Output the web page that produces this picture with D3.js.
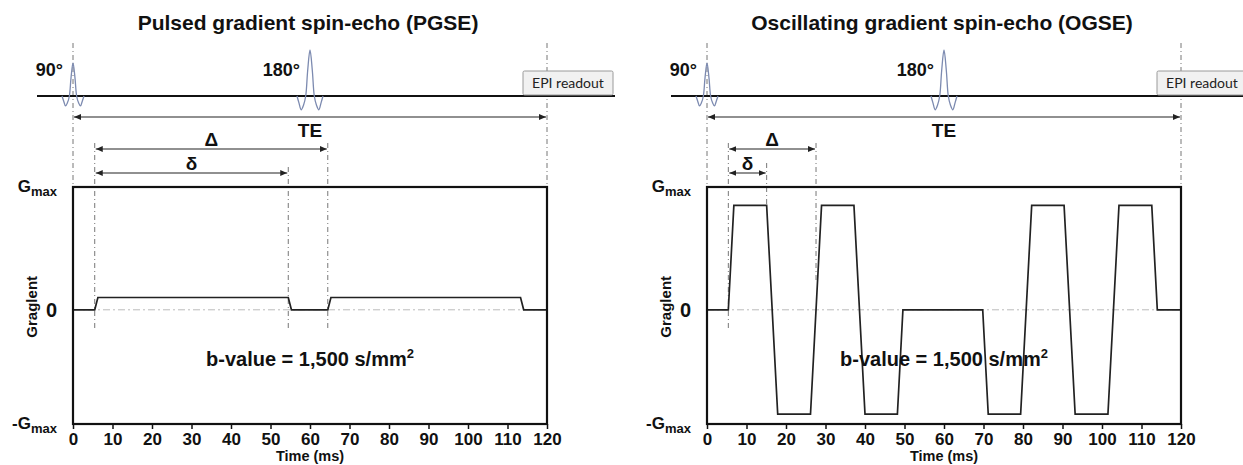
<!DOCTYPE html>
<html>
<head>
<meta charset="utf-8">
<script src="https://cdn.jsdelivr.net/npm/d3@7"></script>
<style>
  body { margin: 0; background: #fff; }
  svg { display: block; font-family: "Liberation Sans", Arial, sans-serif; }
</style>
</head>
<body>
<svg id="chart" width="1243" height="465"></svg>
<script>
// ---- data ----
const timeTicks = [0, 10, 20, 30, 40, 50, 60, 70, 80, 90, 100, 110, 120];
const gradExtent = [-0.93, 1];          // frame bottom / top (-Gmax .. Gmax)
const gradTickValues = [1, 0, -0.93];

const pgseTime = [0, 5.5, 6.3, 54.5, 55.3, 64.5, 65.3, 113.3, 114.1, 120];
const pgseGrad = [0, 0, 0.1, 0.1, 0, 0, 0.1, 0.1, 0, 0];

const ogseTime = [0, 5.4, 6.8, 15.1, 17.9, 26.2, 29.0, 37.2, 40.0, 48.2, 49.6,
                  69.8, 71.2, 79.4, 82.2, 90.4, 93.2, 101.5, 104.3, 112.6, 114.0, 120];
const ogseGrad = [0, 0, 0.85, 0.85, -0.85, -0.85, 0.85, 0.85, -0.85, -0.85, 0,
                  0, -0.85, -0.85, 0.85, 0.85, -0.85, -0.85, 0.85, 0.85, 0, 0];

// delta start, delta end, DELTA end (ms)
const pgseTimings = [5.5, 54.5, 64.5];
const ogseTimings = [5.4, 15.1, 27.6];

const teSpan = [0, 120];
const rfTimes = [0, 60];
const rfLabels = ['90°', '180°'];
// normalised sinc-like RF envelope (position, amplitude)
const rfProfileU = [-1, -0.85, -0.68, -0.5, -0.33, -0.18, 0, 0.18, 0.33, 0.5, 0.68, 0.85, 1];
const rfProfileA = [0, -0.15, -0.3, -0.2, 0, 0.55, 1, 0.55, 0, -0.2, -0.3, -0.15, 0];

const titles = ['Pulsed gradient spin-echo (PGSE)', 'Oscillating gradient spin-echo (OGSE)'];

// ---- layout ----
const svg = d3.select('#chart');
const frameTop = 187, frameBottom = 424, rfBase = 96, teY = 117, bigDY = 149, smallDY = 173;

const defs = svg.append('defs');
defs.append('marker')
  .attr('id', 'arr')
  .attr('viewBox', '0 0 7 6')
  .attr('refX', 7).attr('refY', 3)
  .attr('markerWidth', 7).attr('markerHeight', 6)
  .attr('markerUnits', 'userSpaceOnUse')
  .attr('orient', 'auto-start-reverse')
  .append('path').attr('d', 'M0,0L7,3L0,6z').attr('fill', '#222');

const panels = [
  { x0: 73, title: titles[0], t: pgseTime, g: pgseGrad, timing: pgseTimings,
    dashTop: [143, 167, 143], dashBot: [329, 329, 329] },
  { x0: 707, title: titles[1], t: ogseTime, g: ogseGrad, timing: ogseTimings,
    dashTop: [143, 163, 143], dashBot: [330, 205, 280] }
];

panels.forEach(p => {
  const x = d3.scaleLinear().domain([0, 120]).range([p.x0, p.x0 + 474]);
  const y = d3.scaleLinear().domain(gradExtent).range([frameBottom, frameTop]);
  const g = svg.append('g');

  // title
  g.append('text')
    .attr('x', x(59.5)).attr('y', 30)
    .attr('text-anchor', 'middle')
    .attr('font-size', 21).attr('font-weight', 'bold').attr('fill', '#111')
    .text(p.title);

  // dashed guide lines for TE
  teSpan.forEach(t => {
    g.append('line')
      .attr('x1', x(t)).attr('x2', x(t))
      .attr('y1', 43).attr('y2', frameTop)
      .attr('stroke', '#777').attr('stroke-width', 1)
      .attr('stroke-dasharray', '5,3,1,3');
  });

  // dashed guide lines for delta / DELTA
  p.timing.forEach((t, i) => {
    g.append('line')
      .attr('x1', x(t)).attr('x2', x(t))
      .attr('y1', p.dashTop[i]).attr('y2', p.dashBot[i])
      .attr('stroke', '#777').attr('stroke-width', 1)
      .attr('stroke-dasharray', '5,3,1,3');
  });

  // RF baseline
  g.append('line')
    .attr('x1', x(0) - 36).attr('x2', Math.min(x(120) + 68, 1243))
    .attr('y1', rfBase).attr('y2', rfBase)
    .attr('stroke', '#111').attr('stroke-width', 2);

  // RF pulses
  const pulseSize = [{ hw: 11, h: 33 }, { hw: 13, h: 46 }];
  rfTimes.forEach((t, i) => {
    const cx = x(t);
    const pts = rfProfileU.map((u, k) => [cx + u * pulseSize[i].hw, rfBase - rfProfileA[k] * pulseSize[i].h]);
    g.append('path')
      .attr('d', d3.line().curve(d3.curveCatmullRom)(pts))
      .attr('fill', 'none').attr('stroke', '#7c8ab0').attr('stroke-width', 1.3);
    g.append('text')
      .attr('x', cx - 10).attr('y', 76)
      .attr('text-anchor', 'end')
      .attr('font-size', 18).attr('font-weight', 'bold').attr('fill', '#111')
      .text(rfLabels[i]);
  });

  // EPI readout box
  const epi = g.append('g');
  epi.append('rect')
    .attr('x', x(120) - 24).attr('y', 71)
    .attr('width', 90).attr('height', 24)
    .attr('rx', 1.5)
    .attr('fill', '#f1f1f1').attr('stroke', '#9a9a9a').attr('stroke-width', 1);
  epi.append('text')
    .attr('x', x(120) + 21).attr('y', 88)
    .attr('text-anchor', 'middle')
    .attr('font-family', 'Lato, "Open Sans", sans-serif')
    .attr('font-size', 14).attr('fill', '#222')
    .text('EPI readout');

  // arrows
  const arrow = (t1, t2, yy) => g.append('line')
    .attr('x1', x(t1) + 1).attr('x2', x(t2) - 1)
    .attr('y1', yy).attr('y2', yy)
    .attr('stroke', '#222').attr('stroke-width', 1.1)
    .attr('marker-start', 'url(#arr)').attr('marker-end', 'url(#arr)');
  arrow(teSpan[0], teSpan[1], teY);
  arrow(p.timing[0], p.timing[2], bigDY);
  arrow(p.timing[0], p.timing[1], smallDY);

  const lab = (t, yy, s) => g.append('text')
    .attr('x', x(t)).attr('y', yy)
    .attr('text-anchor', 'middle')
    .attr('font-size', 19).attr('font-weight', 'bold').attr('fill', '#111')
    .text(s);
  lab(60, 137, 'TE');
  lab((p.timing[0] + p.timing[2]) / 2, 146, 'Δ');
  lab((p.timing[0] + p.timing[1]) / 2, 170, 'δ');

  // zero line
  g.append('line')
    .attr('x1', x(0)).attr('x2', x(120))
    .attr('y1', y(0)).attr('y2', y(0))
    .attr('stroke', '#bbb').attr('stroke-width', 1)
    .attr('stroke-dasharray', '7,3,2,3');

  // waveform
  const wave = p.t.map((t, i) => ({ t, v: p.g[i] }));
  g.append('path')
    .datum(wave)
    .attr('d', d3.line().x(d => x(d.t)).y(d => y(d.v)))
    .attr('fill', 'none').attr('stroke', '#222').attr('stroke-width', 1.7);

  // frame
  g.append('rect')
    .attr('x', x(0)).attr('y', frameTop)
    .attr('width', x(120) - x(0)).attr('height', frameBottom - frameTop)
    .attr('fill', 'none').attr('stroke', '#111').attr('stroke-width', 2.2);

  // x axis
  const ax = g.append('g')
    .attr('transform', `translate(0,${frameBottom})`)
    .call(d3.axisBottom(x).tickValues(timeTicks).tickSize(5).tickPadding(4));
  ax.select('.domain').remove();
  ax.selectAll('line').attr('stroke', '#111').attr('stroke-width', 1.5);
  ax.selectAll('text')
    .attr('font-size', 17).attr('font-weight', 'bold').attr('fill', '#111')
    .attr('font-family', '"Liberation Sans", Arial, sans-serif');

  g.append('text')
    .attr('x', x(60)).attr('y', 461)
    .attr('text-anchor', 'middle')
    .attr('font-size', 14.5).attr('font-weight', 'bold').attr('fill', '#111')
    .text('Time (ms)');

  // y labels
  gradTickValues.forEach(v => {
    const t = g.append('text')
      .attr('x', x(0) - 16).attr('y', y(v) + (v === 0 ? 7 : 5))
      .attr('text-anchor', 'end')
      .attr('font-weight', 'bold').attr('fill', '#111');
    if (v === 0) {
      t.attr('font-size', 20).text('0');
    } else {
      t.attr('font-size', 17);
      t.append('tspan').text(v < 0 ? '-G' : 'G');
      t.append('tspan').attr('font-size', 13).attr('dy', 4).text('max');
    }
  });

  g.append('text')
    .attr('transform', `translate(${x(0) - 36},${y(0) - 3}) rotate(-90)`)
    .attr('text-anchor', 'middle')
    .attr('font-size', 15).attr('font-weight', 'bold').attr('fill', '#111')
    .text('Graglent');

  // b-value
  const b = g.append('text')
    .attr('x', x(60)).attr('y', 366)
    .attr('text-anchor', 'middle')
    .attr('font-size', 20).attr('font-weight', 'bold').attr('fill', '#111');
  b.append('tspan').text('b-value = 1,500 s/mm');
  b.append('tspan').attr('font-size', 13).attr('dy', -8).text('2');
});
</script>
</body>
</html>
